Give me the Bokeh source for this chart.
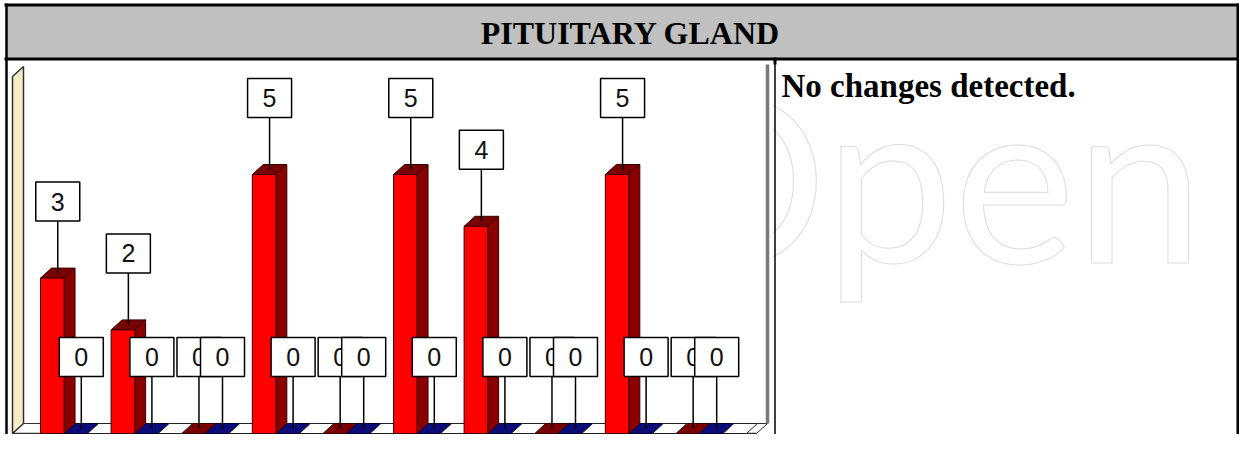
from bokeh.plotting import figure
from bokeh.models import Range1d, ColumnDataSource
from bokeh.core.properties import value
from bokeh.embed import file_html
from bokeh.resources import INLINE

# ---------------- data ----------------
title_text = "PITUITARY GLAND"
note_text = "No changes detected."
watermark_text = "Open"
categories = ["1", "2", "3", "4", "5", "6", "7", "8", "9", "10"]
series_names = ["Series 1", "Series 2", "Series 3"]
series_1 = [3, 2, 0, 5, 0, 5, 4, 0, 5, 0]
series_2 = [0, 0, 0, 0, 0, 0, 0, 0, 0, 0]
series_3 = [0, 0, 0, 0, 0, 0, 0, 0, 0, 0]
all_series = [series_1, series_2, series_3]

# ---------------- styles ----------------
front_colors = ["#FF0000", "#000080", "#FFFFFF"]
side_colors = ["#8A0000", "#000060", "#D8D8D8"]
top_colors = ["#780000", "#0C0C78", "#FFFFFF"]
edge_colors = ["#3A0000", "#000030", "#202020"]
show_labels = [True, True, False]

W, H = 1239, 434
PX0, PY0 = 40.0, 433.0     # pixel of category 0 left edge / value 0
KX, KY = 70.6, 51.8         # pixels per category / per value unit
DX_PX, DY_PX = 11.0, 10.0   # 3D depth offset in pixels


def X(px):
    return (px - PX0) / KX


def Y(py):
    return (PY0 - py) / KY


DX = DX_PX / KX
DY = DY_PX / KY
n_series = len(all_series)
slot = 1.0 / n_series

p = figure(width=W, height=H,
           x_range=Range1d(X(0), X(W)),
           y_range=Range1d(Y(H), Y(0)),
           output_backend="svg", toolbar_location=None, min_border=0,
           x_axis_location=None, y_axis_location=None,
           background_fill_color="white", border_fill_color="white")
p.grid.visible = False
p.outline_line_color = None

# watermark in the right cell
p.text(x=[X(1203)], y=[Y(173)], text=[watermark_text],
       text_font=value("Lato"), text_font_size="230px",
       text_align="right", text_baseline="middle",
       text_color="#FFFFFF", text_outline_color="#DCDCDC")

# chart image background
p.quad(left=[X(8)], right=[X(772)], top=[Y(61)], bottom=[Y(H)],
       fill_color="white", line_color=None)

# floor
fl, fr = X(12), X(756)
p.patch([fl, fr, fr + DX, fl + DX], [0, 0, DY, DY],
        fill_color="white", line_color="#303030", line_width=1)
p.segment(x0=[fl], y0=[0], x1=[fr], y1=[0], line_color="#303030", line_width=1.5)
# left wall
p.patch([fl, fl, fl + DX, fl + DX], [0, Y(76), Y(76) + DY, DY],
        fill_color="#F7ECC6", line_color="#303030", line_width=1.5)
# right edge of back wall
p.segment(x0=[fr + DX], y0=[DY], x1=[fr + DX], y1=[Y(64)],
          line_color="#7A7A7A", line_width=3.5)

# bars
tops = dict(xs=[], ys=[], fill=[], line=[])
sides = dict(xs=[], ys=[], fill=[], line=[])
fronts = dict(left=[], right=[], top=[], bottom=[], fill=[], line=[])
for s, vals in enumerate(all_series):
    for i, v in enumerate(vals):
        l = i + s * slot
        r = l + slot
        tops["xs"].append([l, r, r + DX, l + DX])
        tops["ys"].append([v, v, v + DY, v + DY])
        tops["fill"].append(top_colors[s])
        tops["line"].append(edge_colors[s])
        if v > 0:
            sides["xs"].append([r, r + DX, r + DX, r])
            sides["ys"].append([0, DY, v + DY, v])
            sides["fill"].append(side_colors[s])
            sides["line"].append(edge_colors[s])
            fronts["left"].append(l)
            fronts["right"].append(r)
            fronts["top"].append(v)
            fronts["bottom"].append(0)
            fronts["fill"].append(front_colors[s])
            fronts["line"].append(edge_colors[s])

p.patches(xs="xs", ys="ys", fill_color="fill", line_color="line", line_width=1,
          source=ColumnDataSource(tops))
p.patches(xs="xs", ys="ys", fill_color="fill", line_color="line", line_width=1,
          source=ColumnDataSource(sides))
p.quad(left="left", right="right", top="top", bottom="bottom",
       fill_color="fill", line_color="line", line_width=1,
       source=ColumnDataSource(fronts))

# data labels (callouts)
LEAD = 52 / KY
BOX_H = 39 / KY
BOX_HW = 22 / KX
labels = []
for i in range(len(categories)):
    for s, vals in enumerate(all_series):
        if not show_labels[s]:
            continue
        v = vals[i]
        cx = i + s * slot + slot / 2 + DX / 2
        cy = v + DY / 2
        labels.append((cx, cy, v))

p.segment(x0=[c[0] for c in labels], y0=[c[1] for c in labels],
          x1=[c[0] for c in labels], y1=[c[1] + LEAD for c in labels],
          line_color="#000000", line_width=1.5)
for cx, cy, v in labels:
    b = cy + LEAD
    p.quad(left=[cx - BOX_HW], right=[cx + BOX_HW], bottom=[b], top=[b + BOX_H],
           fill_color="white", line_color="#000000", line_width=1.5)
    p.text(x=[cx], y=[b + BOX_H / 2], text=[str(v)],
           text_font=value("Liberation Sans"), text_font_size="25px",
           text_align="center", text_baseline="middle", text_color="#111111")

# table header and borders
p.quad(left=[X(6)], right=[X(W)], top=[Y(4)], bottom=[Y(58)],
       fill_color="#C0C0C0", line_color=None)
p.text(x=[X(630)], y=[Y(32.5)], text=[title_text],
       text_font=value("Liberation Serif"), text_font_style="bold",
       text_font_size="32px", text_align="center", text_baseline="middle",
       text_color="#000000")
p.text(x=[X(781)], y=[Y(85)], text=[note_text],
       text_font=value("Liberation Serif"), text_font_style="bold",
       text_font_size="33px", text_align="left", text_baseline="middle",
       text_color="#000000")

line_x0 = [X(4), X(4), X(6), X(1237.5), X(774.5), X(774.5)]
line_x1 = [X(W), X(W), X(6), X(1237.5), X(774.5), X(774.5)]
line_y0 = [Y(4.5), Y(58.5), Y(3), Y(3), Y(60), Y(57)]
line_y1 = [Y(4.5), Y(58.5), Y(H), Y(H), Y(H), Y(64)]
line_w = [3, 3, 2.5, 3, 1.5, 3]
p.segment(x0=line_x0, y0=line_y0, x1=line_x1, y1=line_y1,
          line_color="#000000", line_width=line_w)

open("out.html", "w").write(file_html(p, INLINE))
